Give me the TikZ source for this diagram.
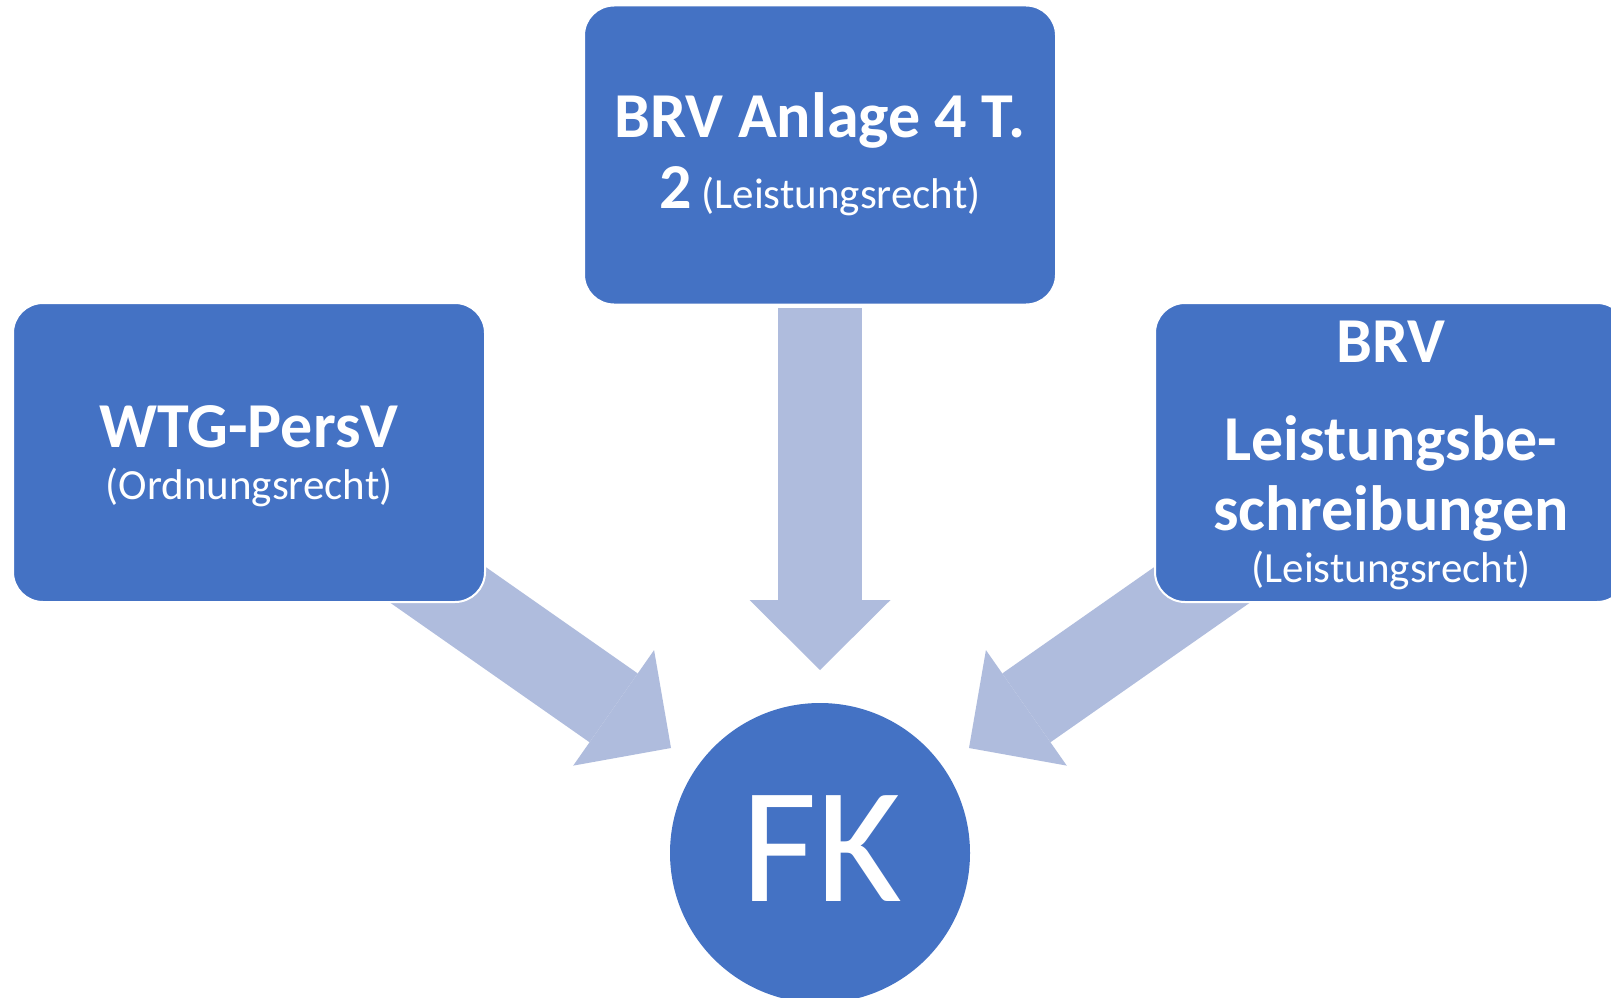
\documentclass[tikz,border=0pt]{standalone}
\usepackage{fontspec}
\setmainfont{Carlito}
\usetikzlibrary{arrows.meta}
\definecolor{boxblue}{HTML}{4472C4}
\definecolor{arrowblue}{HTML}{AFBCDD}
\begin{document}
\begin{tikzpicture}[x=1pt,y=-1pt,
  box/.style={rectangle, rounded corners=30pt, fill=boxblue, draw=white, line width=2pt, minimum width=472pt, minimum height=299pt, inner sep=0pt},
  conn/.style={draw=arrowblue, line width=84pt, -{Triangle[length=70pt,width=141pt,line width=0pt]}},
  boldtxt/.style={text=white, font=\bfseries\fontsize{64}{75}\selectfont, anchor=base, inner sep=0pt},
  subtxt/.style={text=white, font=\fontsize{43}{50}\selectfont, anchor=base, inner sep=0pt}]
\clip (0,0) rectangle (1611,998);
\fill[white] (0,0) rectangle (1611,998);
% arrow end points
\coordinate (tailL) at (374.4,540.4);
\coordinate (tipL) at (671,748);
\coordinate (tailM) at (820,308);
\coordinate (tipM) at (820,670);
\coordinate (tailR) at (1265.6,540.4);
\coordinate (tipR) at (969,748);
\draw[conn] (tailL) -- (tipL);
\draw[conn] (tailM) -- (tipM);
\draw[conn] (tailR) -- (tipR);
% boxes
\node[box] (ord) at (249,452.5) {};
\node[box] (anl) at (820,155) {};
\node[box] (leis) at (1391,452.5) {};
\node[circle, fill=boxblue, minimum size=300pt, inner sep=0pt] (fk) at (820,853) {};
% texts
\node[boldtxt] (t1) at (249,447) {WTG-PersV};
\node[subtxt] (t2) at (249,499) {(Ordnungsrecht)};
\node[boldtxt] (t3) at (820,137) {BRV Anlage 4 T.};
\node[subtxt] (t4) at (820,208) {{\bfseries\fontsize{64}{75}\selectfont 2} (Leistungsrecht)};
\node[boldtxt] (t5) at (1391,362) {BRV};
\node[boldtxt] (t6) at (1391,460) {Leistungsbe-};
\node[boldtxt] (t7) at (1391,530) {schreibungen};
\node[subtxt] (t8) at (1391,582) {(Leistungsrecht)};
\node[text=white, font=\fontsize{165}{190}\selectfont, anchor=base, inner sep=0pt] (t9) at (822,901) {FK};
\end{tikzpicture}
\end{document}
